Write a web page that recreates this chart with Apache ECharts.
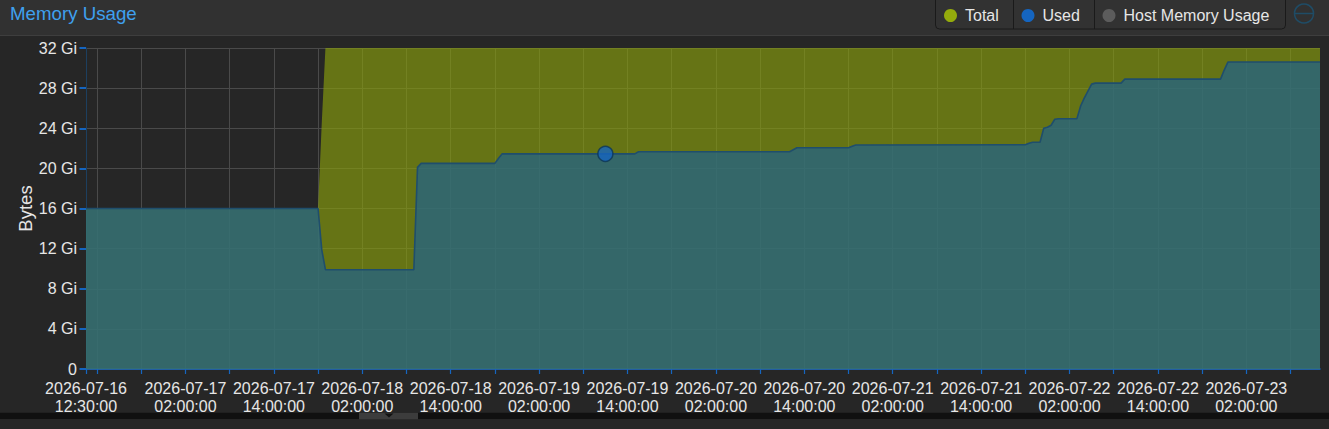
<!DOCTYPE html>
<html>
<head>
<meta charset="utf-8">
<script src="https://cdn.jsdelivr.net/npm/echarts@6/dist/echarts.min.js"></script>
<style>
html,body{margin:0;padding:0;background:#262626;}
#c{width:1329px;height:429px;}
</style>
</head>
<body>
<div id="c"></div>
<script>
// ---- data (values in GiB) ----
const axisStart = '2026-07-16 12:30';
const axisEnd = '2026-07-23 12:00';

const usedTimes = [
  '2026-07-16 12:30','2026-07-17 20:00','2026-07-17 20:30','2026-07-17 21:00',
  '2026-07-18 09:00','2026-07-18 09:30','2026-07-18 10:00','2026-07-18 20:00',
  '2026-07-18 20:30','2026-07-18 21:00','2026-07-19 11:00','2026-07-19 15:00',
  '2026-07-19 15:30','2026-07-20 12:00','2026-07-20 12:30','2026-07-20 13:00',
  '2026-07-20 20:00','2026-07-20 20:30','2026-07-20 21:00','2026-07-21 20:00',
  '2026-07-21 20:30','2026-07-21 21:00','2026-07-21 22:00','2026-07-21 22:30',
  '2026-07-21 23:00','2026-07-21 23:30','2026-07-22 00:00','2026-07-22 00:30',
  '2026-07-22 03:00','2026-07-22 03:30','2026-07-22 04:00','2026-07-22 04:30',
  '2026-07-22 05:00','2026-07-22 05:30','2026-07-22 09:00','2026-07-22 09:30',
  '2026-07-22 22:30','2026-07-22 23:00','2026-07-22 23:30','2026-07-23 12:00'
];
const usedValues = [
  16, 16, 11.9, 9.9,
  9.9, 20.1, 20.5, 20.5,
  21.0, 21.45, 21.45, 21.45,
  21.65, 21.65, 21.85, 22.05,
  22.05, 22.2, 22.33, 22.35,
  22.5, 22.6, 22.6, 24.0,
  24.1, 24.3, 24.9, 24.95,
  24.95, 26.2, 27.0, 27.7,
  28.4, 28.5, 28.5, 28.9,
  28.9, 29.8, 30.6, 30.6
];

const totalTimes = ['2026-07-16 12:30','2026-07-17 20:00','2026-07-17 20:30','2026-07-17 21:00','2026-07-23 12:00'];
const totalValues = [16, 16, 24.5, 32, 32];

const highlightTime = '2026-07-19 11:00';

const tickTimes = [
  '2026-07-16 12:30','2026-07-16 14:00','2026-07-16 20:00',
  '2026-07-17 02:00','2026-07-17 08:00','2026-07-17 14:00','2026-07-17 20:00',
  '2026-07-18 02:00','2026-07-18 08:00','2026-07-18 14:00','2026-07-18 20:00',
  '2026-07-19 02:00','2026-07-19 08:00','2026-07-19 14:00','2026-07-19 20:00',
  '2026-07-20 02:00','2026-07-20 08:00','2026-07-20 14:00','2026-07-20 20:00',
  '2026-07-21 02:00','2026-07-21 08:00','2026-07-21 14:00','2026-07-21 20:00',
  '2026-07-22 02:00','2026-07-22 08:00','2026-07-22 14:00','2026-07-22 20:00',
  '2026-07-23 02:00','2026-07-23 08:00'
];
const labelTimes = [
  '2026-07-16 12:30','2026-07-17 02:00','2026-07-17 14:00','2026-07-18 02:00',
  '2026-07-18 14:00','2026-07-19 02:00','2026-07-19 14:00','2026-07-20 02:00',
  '2026-07-20 14:00','2026-07-21 02:00','2026-07-21 14:00','2026-07-22 02:00',
  '2026-07-22 14:00','2026-07-23 02:00'
];

const yMax = 32;
const yStep = 4;

// ---- helpers ----
function parseT(s) {
  return Date.UTC(+s.slice(0,4), +s.slice(5,7)-1, +s.slice(8,10), +s.slice(11,13), +s.slice(14,16));
}
function pad(n){ return (n < 10 ? '0' : '') + n; }
function fmtT(v) {
  const d = new Date(v);
  return d.getUTCFullYear() + '-' + pad(d.getUTCMonth()+1) + '-' + pad(d.getUTCDate()) + '\n' +
    pad(d.getUTCHours()) + ':' + pad(d.getUTCMinutes()) + ':' + pad(d.getUTCSeconds());
}

const FONT = '"Liberation Sans", Arial, Helvetica, sans-serif';
const TXT = '#e6e6e6';

const usedData = usedTimes.map((t, i) => [parseT(t), usedValues[i]]);
const totalData = totalTimes.map((t, i) => [parseT(t), totalValues[i]]);
const hiIdx = usedTimes.indexOf(highlightTime);

const chart = echarts.init(document.getElementById('c'), null, {renderer: 'svg', width: 1329, height: 429});

function legendAt(name, left) {
  return {
    data: [name], left: left, top: 7.5, padding: 0,
    icon: 'circle', itemWidth: 13, itemHeight: 13, itemGap: 0,
    selectedMode: false,
    textStyle: {color: TXT, fontSize: 16, fontFamily: FONT, padding: [0, 0, 0, 3]}
  };
}

chart.setOption({
  backgroundColor: '#262626',
  animation: false,
  textStyle: {fontFamily: FONT},
  grid: {left: 86, right: 9, top: 48, bottom: 60, containLabel: false},
  legend: [
    legendAt('Total', 944),
    legendAt('Used', 1021.5),
    legendAt('Host Memory Usage', 1102.5)
  ],
  graphic: [
    {type: 'rect', z: -10, shape: {x: 0, y: 0, width: 1329, height: 35}, style: {fill: '#313131'}},
    {type: 'line', z: -9, shape: {x1: 0, y1: 35.5, x2: 1329, y2: 35.5}, style: {stroke: '#3e3e3e', lineWidth: 1}},
    {type: 'rect', z: -8, shape: {x: 935.5, y: -4, width: 350, height: 33, r: 4}, style: {fill: '#323232', stroke: '#1a1a1a', lineWidth: 1}},
    {type: 'line', z: -7, shape: {x1: 1013.5, y1: 0, x2: 1013.5, y2: 29}, style: {stroke: '#1a1a1a', lineWidth: 1}},
    {type: 'line', z: -7, shape: {x1: 1094.5, y1: 0, x2: 1094.5, y2: 29}, style: {stroke: '#1a1a1a', lineWidth: 1}},
    {type: 'circle', z: 5, shape: {cx: 1304, cy: 13.5, r: 9.5}, style: {fill: 'none', stroke: '#1f4c66', lineWidth: 1.5}},
    {type: 'line', z: 5, shape: {x1: 1294.5, y1: 13.5, x2: 1313.5, y2: 13.5}, style: {stroke: '#1f4c66', lineWidth: 1.5}},
    {type: 'text', z: 5, x: 10, y: 13, style: {text: 'Memory Usage', fill: '#3fa0ee', fontSize: 18.7, fontFamily: FONT, verticalAlign: 'middle', align: 'left'}},
    {type: 'rect', z: 100, shape: {x: 0, y: 412.7, width: 1329, height: 6.3}, style: {fill: '#101010'}},
    {type: 'rect', z: 101, shape: {x: 359, y: 412.7, width: 59, height: 6.5}, style: {fill: '#3c3c3c'}},
    {type: 'polygon', z: 102, shape: {points: [[384.5, 413.5], [393.5, 413.5], [389, 417.5]]}, style: {fill: '#111111'}}
  ],
  xAxis: {
    type: 'value',
    min: parseT(axisStart),
    max: parseT(axisEnd),
    axisLine: {show: true, onZero: false, lineStyle: {color: '#1565c0', width: 1.5}},
    axisTick: {show: true, length: 5, customValues: tickTimes.map(parseT), lineStyle: {color: '#1565c0', width: 1.2}},
    axisLabel: {
      customValues: labelTimes.map(parseT),
      formatter: fmtT, color: TXT, fontSize: 16, lineHeight: 18.5, margin: 10, fontFamily: FONT
    },
    splitLine: {show: true, lineStyle: {color: '#4a4a4a', width: 1}}
  },
  yAxis: {
    type: 'value', min: 0, max: yMax, interval: yStep,
    name: 'Bytes', nameLocation: 'middle', nameGap: 51, nameRotate: 90, nameMoveOverlap: false,
    nameTextStyle: {color: TXT, fontSize: 18.5, fontFamily: FONT},
    axisLine: {show: true, lineStyle: {color: '#1d3f5f', width: 1}},
    axisTick: {show: true, length: 6.5, lineStyle: {color: '#1565c0', width: 2}},
    axisLabel: {formatter: v => v === 0 ? '0' : v + ' Gi', color: TXT, fontSize: 16, margin: 9, fontFamily: FONT},
    splitLine: {show: true, lineStyle: {color: '#4a4a4a', width: 1}}
  },
  series: [
    {
      name: 'Total', type: 'line', data: totalData, showSymbol: false, symbol: 'none',
      color: '#94ab0c',
      lineStyle: {width: 0},
      areaStyle: {color: '#8ca10d', opacity: 0.64},
      z: 2
    },
    {
      name: 'Used', type: 'line', data: usedData, showSymbol: false, symbol: 'none',
      color: '#1565c0',
      lineStyle: {color: '#1f4e6c', width: 1.6},
      areaStyle: {color: '#20628d', opacity: 0.7},
      z: 3
    },
    {
      name: 'Host Memory Usage', type: 'line', data: [], color: '#5c5c5c', showSymbol: false
    },
    {
      name: 'UsedHighlight', type: 'scatter', data: [usedData[hiIdx]],
      symbol: 'circle', symbolSize: 15,
      itemStyle: {color: '#1565c0', borderColor: '#0d3658', borderWidth: 1.5},
      z: 5, silent: true
    }
  ]
});
</script>
</body>
</html>
